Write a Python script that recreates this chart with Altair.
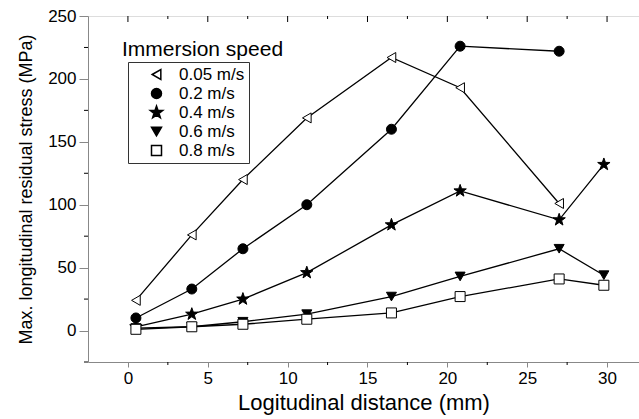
import altair as alt
import pandas as pd

# ---- data ----
series_names = ["0.05 m/s", "0.2 m/s", "0.4 m/s", "0.6 m/s", "0.8 m/s"]
x_pos = [0.5, 4.0, 7.2, 11.2, 16.5, 20.8, 27.0, 29.8]
s_005 = [24, 76, 120, 169, 217, 193, 101]
s_02 = [10, 33, 65, 100, 160, 226, 222]
s_04 = [3, 13, 25, 46, 84, 111, 88, 132]
s_06 = [2, 3, 7, 13, 27, 43, 65, 44]
s_08 = [1, 3, 5, 9, 14, 27, 41, 36]

x_major = [0, 5, 10, 15, 20, 25, 30]
x_minor = [2.5, 7.5, 12.5, 17.5, 22.5, 27.5]
y_major = [0, 50, 100, 150, 200, 250]
y_minor = [-25, 25, 75, 125, 175, 225]

legend_title = "Immersion speed"

star = ("M0,-1.3L0.306,-0.421L1.236,-0.402L0.494,0.161L0.764,1.052L0,0.52"
        "L-0.764,1.052L-0.494,0.161L-1.236,-0.402L-0.306,-0.421Z")
shapes = ["triangle-left", "circle", star, "triangle-down", "square"]
fills = ["white", "black", "black", "black", "white"]

rows = []
for name, vals in zip(series_names, [s_005, s_02, s_04, s_06, s_08]):
    for xv, yv in zip(x_pos, vals):
        rows.append({"series": name, "x": xv, "y": yv})
df = pd.DataFrame(rows)

W, H = 551, 346
FONT = "Liberation Sans"

xs = alt.Scale(domain=[-2.5, 32], nice=False, zero=False)
ys = alt.Scale(domain=[-25, 250], nice=False, zero=False)

base = alt.Chart(df)

lines = base.mark_line(color="black", strokeWidth=1.3).encode(
    x=alt.X("x:Q", scale=xs,
            axis=alt.Axis(values=x_major, title="Logitudinal distance (mm)",
                          tickSize=5, labelFontSize=17, titleFontSize=22,
                          titleFontWeight="normal", labelFont=FONT, titleFont=FONT,
                          labelPadding=3, titlePadding=6, grid=False)),
    y=alt.Y("y:Q", scale=ys,
            axis=alt.Axis(values=y_major,
                          title="Max. longitudinal residual stress (MPa)",
                          tickSize=9, labelFontSize=17, titleFontSize=18,
                          titleFontWeight="normal", labelFont=FONT, titleFont=FONT,
                          labelPadding=3, titlePadding=12, grid=False)),
    detail="series:N",
)

leg = alt.Legend(title=None, orient="none", legendX=40, legendY=46,
                 labelFont=FONT, labelFontSize=17, labelColor="black",
                 strokeColor="#333333", padding=4, rowPadding=1,
                 symbolOffset=16, labelOffset=14)

points = base.mark_point(filled=True, stroke="black", strokeWidth=1,
                         opacity=1, size=100).encode(
    x=alt.X("x:Q", scale=xs),
    y=alt.Y("y:Q", scale=ys),
    shape=alt.Shape("series:N", scale=alt.Scale(domain=series_names, range=shapes),
                    legend=leg),
    fill=alt.Fill("series:N", scale=alt.Scale(domain=series_names, range=fills),
                  legend=leg),
)

# minor & mirrored ticks
bx_minor = alt.Chart(pd.DataFrame({"v": x_minor})).mark_rule(
    color="black", strokeWidth=1).encode(
    x=alt.X("v:Q", scale=xs), y=alt.value(H), y2=alt.value(H + 3))
top_major = alt.Chart(pd.DataFrame({"v": x_major})).mark_rule(
    color="black", strokeWidth=1).encode(
    x=alt.X("v:Q", scale=xs), y=alt.value(0), y2=alt.value(6))
top_minor = alt.Chart(pd.DataFrame({"v": x_minor})).mark_rule(
    color="black", strokeWidth=1).encode(
    x=alt.X("v:Q", scale=xs), y=alt.value(0), y2=alt.value(3))
ly_minor = alt.Chart(pd.DataFrame({"v": y_minor})).mark_rule(
    color="black", strokeWidth=1).encode(
    y=alt.Y("v:Q", scale=ys), x=alt.value(0), x2=alt.value(-4))

title_txt = alt.Chart(pd.DataFrame({"t": [legend_title]})).mark_text(
    align="left", baseline="alphabetic", fontSize=21, font=FONT,
    color="black").encode(
    text="t:N", x=alt.value(34), y=alt.value(40))

chart = alt.layer(lines, bx_minor, top_major, top_minor, ly_minor,
                  points, title_txt).properties(
    width=W, height=H,
    padding={"left": 88, "top": 16, "right": 0, "bottom": 57},
    autosize=alt.AutoSizeParams(type="none"),
).configure_view(
    stroke="black", strokeWidth=1.2
).configure_axis(
    labelColor="black", titleColor="black",
    domainColor="black", tickColor="black", domainWidth=1.2, tickWidth=1.2,
).configure_legend(
    symbolSize=100, symbolStrokeColor="black", symbolStrokeWidth=1,
).configure(background="white")

chart.save("out.html", embed_options={"renderer": "svg", "actions": False})
